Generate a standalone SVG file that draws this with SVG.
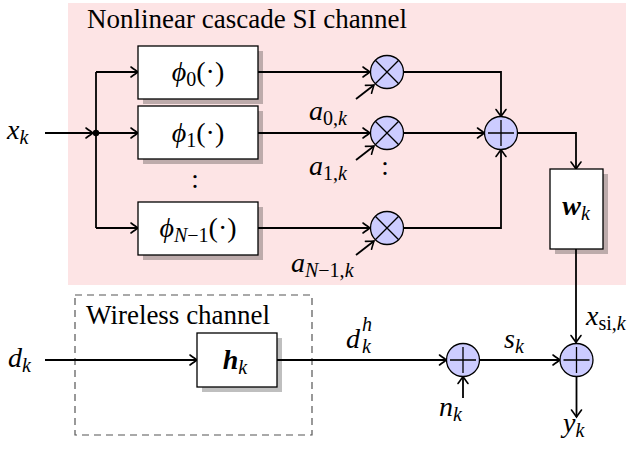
<svg xmlns="http://www.w3.org/2000/svg" width="631" height="450" viewBox="0 0 631 450">
<defs>
<marker id="ar" viewBox="-8 -5 10 10" refX="0" refY="0" markerWidth="10" markerHeight="10" markerUnits="userSpaceOnUse" orient="auto" overflow="visible">
<path d="M -7 -5 Q -2 -1.3 0 0 Q -2 1.3 -7 5" fill="none" stroke="#000" stroke-width="1.6" stroke-linecap="round"/>
</marker>
<style>
.ln{fill:none;stroke:#000;stroke-width:1.8}
.arr{fill:none;stroke:#000;stroke-width:1.8;marker-end:url(#ar)}
.box{fill:#fff;stroke:#000;stroke-width:1.3}
.sh{fill:#000;fill-opacity:0.25}
.op{fill:#ccccff;stroke:#000;stroke-width:1.3}
.sym{fill:none;stroke:#000;stroke-width:1.3}
.t{font-family:"Liberation Serif","Times New Roman",serif;font-size:27px;fill:#000}
.m{font-family:"Liberation Serif","Times New Roman",serif;font-size:28px;font-style:italic;fill:#000}
.up{font-style:normal}
.sub{font-size:20px}
.bd{font-weight:bold}
</style>
</defs>
<rect x="68" y="3" width="558" height="282" fill="#fde4e5"/>
<text class="t" x="87" y="28">Nonlinear cascade SI channel</text>
<rect x="75" y="295" width="237" height="140" fill="none" stroke="#555" stroke-width="1.2" stroke-dasharray="7,5"/>
<text class="t" x="86" y="324">Wireless channel</text>

<g id="connectors">
<line class="arr" x1="45" y1="133" x2="93" y2="133"/>
<polyline class="ln" points="96,72 96,228"/>
<polyline class="arr" points="96,72 138,72"/>
<polyline class="arr" points="96,133 138,133"/>
<polyline class="arr" points="96,228 138,228"/>
<line class="arr" x1="258" y1="72" x2="370" y2="72"/>
<line class="arr" x1="258" y1="133" x2="370" y2="133"/>
<line class="arr" x1="258" y1="228" x2="370" y2="228"/>
<line class="arr" x1="356" y1="99" x2="374" y2="85"/>
<line class="arr" x1="356" y1="160" x2="374" y2="146"/>
<line class="arr" x1="356" y1="255" x2="374" y2="241"/>
<polyline class="arr" points="403.5,72 501,72 501,116.5"/>
<line class="arr" x1="403.5" y1="133" x2="484.5" y2="133"/>
<polyline class="arr" points="403.5,228 501,228 501,149.5"/>
<polyline class="arr" points="517.5,133 576,133 576,169"/>
<line class="arr" x1="576" y1="249" x2="576" y2="342.5"/>
<line class="arr" x1="45" y1="360" x2="197" y2="360"/>
<line class="arr" x1="277" y1="360" x2="446.5" y2="360"/>
<line class="arr" x1="479.5" y1="360" x2="560" y2="360"/>
<line class="arr" x1="463" y1="398" x2="463" y2="376.5"/>
<line class="arr" x1="576.5" y1="376.5" x2="576.5" y2="417"/>
<circle cx="96" cy="133" r="3.2" fill="#000"/>
</g>

<g id="phi0">
<rect class="sh" x="143" y="51" width="120" height="53"/>
<rect class="box" x="138" y="46" width="120" height="53"/>
<text class="m" x="198" y="81" text-anchor="middle">ϕ<tspan class="up sub" dy="5">0</tspan><tspan class="up" dy="-5">(·)</tspan></text>
</g>
<g id="phi1">
<rect class="sh" x="143" y="111" width="120" height="53"/>
<rect class="box" x="138" y="106" width="120" height="53"/>
<text class="m" x="198" y="142" text-anchor="middle">ϕ<tspan class="up sub" dy="5">1</tspan><tspan class="up" dy="-5">(·)</tspan></text>
</g>
<text class="t" x="195" y="188" text-anchor="middle">:</text>
<g id="phiN">
<rect class="sh" x="143" y="207" width="120" height="53"/>
<rect class="box" x="138" y="202" width="120" height="53"/>
<text class="m" x="198" y="237" text-anchor="middle">ϕ<tspan class="sub" dy="5">N</tspan><tspan class="up sub">−1</tspan><tspan class="up" dy="-5">(·)</tspan></text>
</g>

<g id="mul0"><circle class="op" cx="387" cy="72" r="16.5"/><path class="sym" d="M375.3,60.3 L398.7,83.7 M398.7,60.3 L375.3,83.7"/></g>
<g id="mul1"><circle class="op" cx="387" cy="133" r="16.5"/><path class="sym" d="M375.3,121.3 L398.7,144.7 M398.7,121.3 L375.3,144.7"/></g>
<g id="mulN"><circle class="op" cx="387" cy="228" r="16.5"/><path class="sym" d="M375.3,216.3 L398.7,239.7 M398.7,216.3 L375.3,239.7"/></g>
<g id="sum0"><circle class="op" cx="501" cy="133" r="16.5"/><path class="sym" d="M488,133 H514 M501,120 V146"/></g>

<g id="wk">
<rect class="sh" x="555" y="174" width="53" height="80"/>
<rect class="box" x="550" y="169" width="53" height="80"/>
<text class="m bd" x="576" y="215" text-anchor="middle">w<tspan class="sub" style="font-weight:normal" dy="5">k</tspan></text>
</g>

<g id="hk">
<rect class="sh" x="202" y="338" width="80" height="54"/>
<rect class="box" x="197" y="333" width="80" height="54"/>
<text class="m bd" x="235" y="369" text-anchor="middle">h<tspan class="sub" style="font-weight:normal" dy="5">k</tspan></text>
</g>

<g id="sum1"><circle class="op" cx="463" cy="360" r="16.5"/><path class="sym" d="M450,360 H476 M463,347 V373"/></g>
<g id="sum2"><circle class="op" cx="576.5" cy="360" r="16.5"/><path class="sym" d="M563.5,360 H589.5 M576.5,347 V373"/></g>

<text class="m" x="7" y="139">x<tspan class="sub" dy="5">k</tspan></text>
<text class="m" x="8" y="367">d<tspan class="sub" dy="5">k</tspan></text>
<text class="m" x="309" y="120">a<tspan class="sub" dy="5"><tspan class="up">0,</tspan>k</tspan></text>
<text class="m" x="309" y="175">a<tspan class="sub" dy="5"><tspan class="up">1,</tspan>k</tspan></text>
<text class="t" x="385" y="175" text-anchor="middle">:</text>
<text class="m" x="291" y="272">a<tspan class="sub" dy="5">N<tspan class="up">−1,</tspan>k</tspan></text>
<text class="m" x="346" y="348">d</text>
<text class="m sub" x="362" y="331">h</text>
<text class="m sub" x="362" y="353">k</text>
<text class="m" x="504" y="348">s<tspan class="sub" dy="5">k</tspan></text>
<text class="m" x="586" y="325">x<tspan class="sub" dy="5"><tspan class="up">si,</tspan>k</tspan></text>
<text class="m" x="439" y="416">n<tspan class="sub" dy="5">k</tspan></text>
<text class="m" x="563" y="432">y<tspan class="sub" dy="5">k</tspan></text>
</svg>
